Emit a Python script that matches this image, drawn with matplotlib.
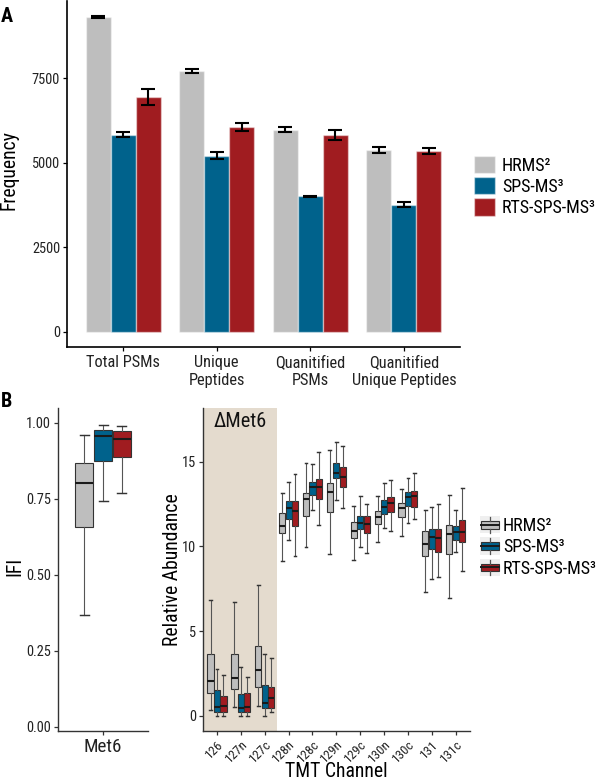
import matplotlib
matplotlib.use('Agg')
import matplotlib.pyplot as plt
from matplotlib import font_manager as fm
from matplotlib.textpath import TextPath
from matplotlib.patches import Patch, Rectangle
from matplotlib.lines import Line2D
from matplotlib.legend_handler import HandlerBase
import numpy as np

# ---------------- data ----------------
methods = ['HRMS²', 'SPS-MS³', 'RTS-SPS-MS³']
colors = ['#BEBEBE', '#00628C', '#A01C20']

categories_a = ['Total PSMs', 'Unique\nPeptides', 'Quanitified\nPSMs', 'Quanitified\nUnique Peptides']
hrms_counts = [9320, 7713, 5981, 5378]
sps_counts = [5833, 5212, 4010, 3765]
rts_counts = [6944, 6069, 5822, 5349]
hrms_err = [25, 65, 70, 85]
sps_err = [80, 100, 20, 65]
rts_err = [230, 113, 150, 100]

ifi_category = ['Met6']
# whislo, q1, med, q3, whishi
hrms_ifi = [0.367, 0.657, 0.800, 0.869, 0.961]
sps_ifi = [0.742, 0.873, 0.956, 0.976, 0.994]
rts_ifi = [0.768, 0.887, 0.947, 0.974, 0.989]

channels = ['126', '127n', '127c', '128n', '128c', '129n', '129c', '130n', '130c', '131', '131c']
hrms_lo = [0.33, 0.51, 0.61, 9.16, 9.97, 9.56, 9.20, 10.28, 10.62, 7.33, 6.98]
hrms_q1 = [1.38, 1.57, 1.69, 10.80, 11.82, 12.04, 10.48, 11.31, 11.72, 9.42, 9.58]
hrms_med = [2.06, 2.22, 2.69, 11.23, 12.78, 13.22, 10.93, 11.72, 12.29, 10.13, 10.76]
hrms_q3 = [3.64, 3.64, 4.11, 11.96, 13.14, 13.73, 11.43, 12.08, 12.58, 10.93, 11.29]
hrms_hi = [6.84, 6.74, 7.73, 13.14, 14.95, 15.71, 12.41, 13.00, 13.39, 12.17, 13.04]

sps_lo = [0.02, 0.02, 0.02, 10.36, 12.17, 12.76, 9.99, 11.09, 11.41, 8.10, 9.68]
sps_q1 = [0.26, 0.26, 0.45, 11.64, 13.02, 14.04, 11.01, 11.90, 12.39, 9.85, 10.38]
sps_med = [0.55, 0.47, 0.75, 12.25, 13.53, 14.35, 11.37, 12.31, 12.94, 10.58, 10.84]
sps_q3 = [1.53, 1.30, 1.83, 12.67, 13.82, 14.91, 11.80, 12.74, 13.23, 11.01, 11.21]
sps_hi = [2.79, 2.89, 3.68, 13.81, 14.87, 16.15, 13.00, 13.75, 14.02, 12.35, 12.15]

rts_lo = [0.02, 0.02, 0.22, 9.46, 11.27, 12.27, 9.60, 10.90, 11.64, 8.22, 8.57]
rts_q1 = [0.26, 0.26, 0.45, 11.23, 12.78, 13.53, 10.78, 12.04, 12.35, 9.66, 10.27]
rts_med = [0.59, 0.51, 1.04, 12.09, 13.49, 14.12, 11.31, 12.58, 12.96, 10.50, 10.86]
rts_q3 = [1.20, 1.34, 1.69, 12.67, 14.00, 14.67, 11.80, 12.90, 13.26, 11.01, 11.56]
rts_hi = [2.40, 2.32, 3.44, 14.30, 15.58, 15.91, 12.53, 13.94, 14.34, 12.51, 13.45]

shade_label = 'ΔMet6'
shade_channels = 3

# ---------------- font choice (prefer a narrow sans, like the reference) ----------------
names = {f.name for f in fm.fontManager.ttflist}
cands = ['Liberation Sans Narrow', 'Arial Narrow', 'Roboto Condensed', 'Open Sans Condensed',
         'Noto Sans Condensed', 'DejaVu Sans Condensed']
chosen = next((c for c in cands if c in names), None)
stretch = 'normal'
if chosen is None:
    for f in fm.fontManager.ttflist:
        if (f.name in ('Roboto', 'Open Sans', 'Noto Sans', 'DejaVu Sans', 'Lato', 'Inter')
                and str(f.stretch) in ('condensed', 'semi-condensed') and f.style == 'normal'):
            chosen, stretch = f.name, str(f.stretch)
            break
if chosen is None:
    chosen = 'Liberation Sans'
plt.rcParams['font.family'] = [chosen, 'Liberation Sans', 'DejaVu Sans']
plt.rcParams['font.stretch'] = stretch

# calibrate sizes so that "Total PSMs" is ~73 px wide, as in the reference
_fp = fm.FontProperties(family=[chosen], stretch=stretch)
_w = TextPath((0, 0), 'Total PSMs', size=12.5, prop=_fp).get_extents().width
S = (73 * 0.72) / _w


def fs(v):
    return v * S


# ---------------- figure ----------------
W, H = 600, 781
fig = plt.figure(figsize=(W / 100, H / 100), dpi=100)


def ax_at(left, top, right, bottom):
    return fig.add_axes([left / W, 1 - bottom / H, (right - left) / W, (bottom - top) / H])


def style_axes(ax, color, lw):
    for s in ['top', 'right']:
        ax.spines[s].set_visible(False)
    for s in ['left', 'bottom']:
        ax.spines[s].set_color(color)
        ax.spines[s].set_linewidth(lw)
    ax.tick_params(direction='out', length=3, width=0.9, color=color, pad=2,
                   labelsize=fs(11), labelcolor='#222222')


# ---------- Panel A ----------
axA = ax_at(67, 1, 460, 347)
style_axes(axA, 'black', 1.2)
x = np.arange(1, len(categories_a) + 1)
bw = 0.8 / 3
series = [(hrms_counts, hrms_err), (sps_counts, sps_err), (rts_counts, rts_err)]
for i, (vals, errs) in enumerate(series):
    axA.bar(x + (i - 1) * bw, vals, width=bw, color=colors[i], edgecolor=(1, 1, 1, 0.45),
            linewidth=1.0, yerr=errs, capsize=4.7,
            error_kw=dict(ecolor='black', elinewidth=1.5, capthick=1.5), zorder=2)
axA.set_xlim(0.4, 4.6)
axA.set_ylim(-452, 9790)
axA.set_yticks([0, 2500, 5000, 7500])
axA.set_xticks(x)
axA.set_xticklabels(categories_a, fontsize=fs(12.5), linespacing=1.2)
axA.tick_params(axis='x', pad=3)
axA.set_ylabel('Frequency', fontsize=fs(15))
axA.yaxis.set_label_coords(-0.124, 0.51)

legfs = fs(13.8)
legpx = legfs * 100 / 72
handlesA = [Patch(facecolor=colors[i], edgecolor=(1, 1, 1, 0.45), linewidth=1.0) for i in range(3)]
axA.legend(handlesA, methods, loc='upper left', bbox_to_anchor=(474 / W, 1 - 156 / H),
           bbox_transform=fig.transFigure, frameon=False, fontsize=legfs, borderpad=0,
           borderaxespad=0, handlelength=21 / legpx, handleheight=20 / legpx,
           labelspacing=2.2 / legpx, handletextpad=7 / legpx)

fig.text(1 / W, 1 - 22 / H, 'A', fontsize=fs(15.5), fontweight='bold', ha='left', va='baseline')
fig.text(1 / W, 1 - 407 / H, 'B', fontsize=fs(15.5), fontweight='bold', ha='left', va='baseline')


# ---------- box helpers ----------
def make_stats(lo, q1, med, q3, hi):
    return [dict(whislo=a, q1=b, med=c, q3=d, whishi=e, fliers=[])
            for a, b, c, d, e in zip(lo, q1, med, q3, hi)]


def draw_boxes(ax, stats, positions, color, width, capw, lw=0.8):
    ax.bxp(stats, positions=positions, widths=width, patch_artist=True, showfliers=False,
           capwidths=capw, manage_ticks=False,
           boxprops=dict(facecolor=color, edgecolor='#333333', linewidth=lw),
           medianprops=dict(color='#1a1a1a', linewidth=1.5),
           whiskerprops=dict(color='#555555', linewidth=lw),
           capprops=dict(color='#333333', linewidth=lw * 1.3), zorder=3)


# ---------- Panel B: IFI ----------
axI = ax_at(58, 408, 148, 731)
style_axes(axI, '#333333', 1.0)
ifi_sets = [hrms_ifi, sps_ifi, rts_ifi]
for i, s in enumerate(ifi_sets):
    st = make_stats([s[0]], [s[1]], [s[2]], [s[3]], [s[4]])
    draw_boxes(axI, st, [1 + (i - 1) * 0.25], colors[i], 0.235, 0.12)
axI.set_xlim(0.4, 1.6)
axI.set_ylim(-0.0148, 1.0484)
axI.set_yticks([0, 0.25, 0.5, 0.75, 1.0])
axI.set_yticklabels(['0.00', '0.25', '0.50', '0.75', '1.00'])
axI.set_xticks([1])
axI.set_xticklabels(ifi_category, fontsize=fs(14.5))
axI.set_ylabel('IFI', fontsize=fs(15))
axI.yaxis.set_label_coords(-0.378, 0.508)

# ---------- Panel B: channels ----------
axB = ax_at(202.7, 408, 470, 731)
style_axes(axB, '#333333', 1.0)
xc = np.arange(1, len(channels) + 1)
axB.axvspan(0.4, shade_channels + 0.5, color='#E4DBCE', zorder=0, lw=0)
ch_sets = [(hrms_lo, hrms_q1, hrms_med, hrms_q3, hrms_hi),
           (sps_lo, sps_q1, sps_med, sps_q3, sps_hi),
           (rts_lo, rts_q1, rts_med, rts_q3, rts_hi)]
for i, s in enumerate(ch_sets):
    draw_boxes(axB, make_stats(*s), xc + (i - 1) * 0.27, colors[i], 0.26, 0.12, lw=0.8)
axB.set_xlim(0.4, 11.6)
axB.set_ylim(-0.885, 18.17)
axB.set_yticks([0, 5, 10, 15])
axB.set_xticks(xc)
axB.set_xticklabels(channels, rotation=45, ha='right', va='top', rotation_mode='anchor',
                    fontsize=fs(10))
axB.text(1.96, 17.35, shade_label, fontsize=fs(15.5), ha='center', va='center', color='#111111')
axB.set_ylabel('Relative Abundance', fontsize=fs(15))
axB.yaxis.set_label_coords(-0.078, 0.5)
axB.set_xlabel('TMT Channel', fontsize=fs(15), va='top')
axB.xaxis.set_label_coords(0.5, -0.097)


class BoxHandler(HandlerBase):
    def create_artists(self, legend, orig_handle, xdescent, ydescent, width, height, fontsize, trans):
        fc = orig_handle.get_facecolor()
        x0, y0 = -xdescent, -ydescent
        bg = Rectangle((x0, y0), width, height, facecolor='#EFEFEF', edgecolor='none', transform=trans)
        box = Rectangle((x0 + 0.06 * width, y0 + 0.28 * height), 0.88 * width, 0.44 * height,
                        facecolor=fc, edgecolor='#333333', lw=0.8, transform=trans)
        med = Line2D([x0 + 0.06 * width, x0 + 0.94 * width], [y0 + 0.5 * height] * 2,
                     color='#1a1a1a', lw=1.4, transform=trans)
        w1 = Line2D([x0 + 0.5 * width] * 2, [y0 + 0.72 * height, y0 + 0.95 * height],
                    color='#555555', lw=0.9, transform=trans)
        w2 = Line2D([x0 + 0.5 * width] * 2, [y0 + 0.05 * height, y0 + 0.28 * height],
                    color='#555555', lw=0.9, transform=trans)
        return [bg, box, med, w1, w2]


handlesB = [Patch(facecolor=colors[i]) for i in range(3)]
axB.legend(handlesB, methods, loc='upper left', bbox_to_anchor=(480 / W, 1 - 516 / H),
           bbox_transform=fig.transFigure, frameon=False, fontsize=legfs, borderpad=0,
           borderaxespad=0, handlelength=20 / legpx, handleheight=20 / legpx,
           labelspacing=2.5 / legpx, handletextpad=3 / legpx, handler_map={Patch: BoxHandler()})

fig.savefig('out.png', dpi=100)
